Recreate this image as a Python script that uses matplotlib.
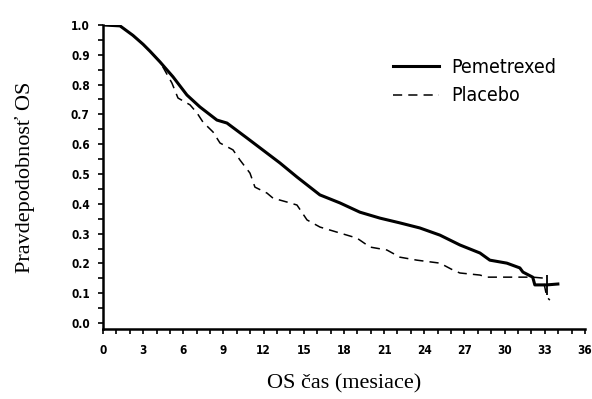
import matplotlib
matplotlib.use("Agg")
import matplotlib.pyplot as plt
from matplotlib import font_manager
from matplotlib.ticker import MultipleLocator, FormatStrFormatter

# Pemetrexed (plna ciara)
pem_t = [0, 1.27, 2.24, 3.0, 3.51, 4.26, 5.23, 6.27, 7.24, 8.51, 9.26, 10.75, 12.25,
         13.22, 14.49, 16.2, 17.7, 19.19, 20.69, 22.18, 23.67, 25.17, 26.66,
         28.16, 28.9, 30.17, 31.14, 31.37, 32.1, 32.26, 33.16, 33.98]
pem_s = [1.0, 0.997, 0.965, 0.935, 0.912, 0.876, 0.826, 0.765, 0.725, 0.681, 0.671,
         0.621, 0.570, 0.537, 0.490, 0.430, 0.403, 0.372, 0.352, 0.336, 0.319, 0.295,
         0.262, 0.235, 0.211, 0.201, 0.185, 0.171, 0.154, 0.128, 0.128, 0.131]

# Placebo (prerusovana ciara)
pla_t = [0, 1.27, 2.24, 3.0, 3.51, 4.26, 5.15, 5.6, 6.5, 7.02, 7.47, 8.22, 8.74,
         9.71, 10.23, 10.98, 11.35, 12.25, 12.7, 13.74, 14.49, 15.24, 16.21, 17.7,
         18.97, 19.94, 21.21, 22.18, 23.45, 25.17, 26.14, 26.66, 28.16, 28.68,
         32.1, 32.86, 33.16, 33.38]
pla_s = [1.0, 0.997, 0.965, 0.935, 0.912, 0.876, 0.805, 0.755, 0.732, 0.705, 0.674,
         0.641, 0.604, 0.581, 0.547, 0.503, 0.456, 0.436, 0.419, 0.406, 0.396, 0.346,
         0.322, 0.302, 0.285, 0.255, 0.245, 0.221, 0.211, 0.201, 0.178, 0.168,
         0.161, 0.154, 0.154, 0.151, 0.087, 0.077]

# cenzurovany bod na konci
cens_t = [33.16]
cens_s = [0.128]

names = {f.name for f in font_manager.fontManager.ttflist}
serif = "Liberation Serif" if "Liberation Serif" in names else "DejaVu Serif"
narrow = {"family": "DejaVu Sans", "stretch": "condensed"}

fig = plt.figure(figsize=(5.92, 3.99), dpi=100)
ax = fig.add_axes([0.174, 0.1754, 0.814, 0.762])

ax.plot(pem_t, pem_s, color="black", lw=2.2, label="Pemetrexed")
ax.plot(pla_t, pla_s, color="black", lw=1.1, dashes=(6, 4), label="Placebo")
ax.plot(cens_t, cens_s, ls="none", marker="|", ms=14, mew=1.3, color="black")

ax.set_xlim(0, 36)
ax.set_ylim(-0.02, 1.0)
for s in ("top", "right"):
    ax.spines[s].set_visible(False)
for s in ("left", "bottom"):
    ax.spines[s].set_linewidth(1.8)

ax.xaxis.set_major_locator(MultipleLocator(3))
ax.xaxis.set_minor_locator(MultipleLocator(1))
ax.yaxis.set_major_locator(MultipleLocator(0.1))
ax.yaxis.set_minor_locator(MultipleLocator(0.05))
ax.yaxis.set_major_formatter(FormatStrFormatter("%.1f"))
ax.tick_params(which="both", direction="out", length=3.5, width=1.2)
ax.tick_params(axis="x", pad=7)
ax.tick_params(axis="y", pad=6)
for lab in ax.get_xticklabels() + ax.get_yticklabels():
    lab.set_fontfamily(narrow["family"])
    lab.set_fontstretch(narrow["stretch"])
    lab.set_fontweight("bold")
    lab.set_fontsize(8.5)

ax.set_ylabel("Pravdepodobnosť OS", family=serif, fontsize=16, labelpad=26)
ax.set_xlabel("OS čas (mesiace)", family=serif, fontsize=16, labelpad=13)

leg = ax.legend(loc="upper left", bbox_to_anchor=(0.565, 0.95), frameon=False,
                handlelength=2.4, handletextpad=0.6, labelspacing=0.5,
                prop={"family": narrow["family"], "stretch": narrow["stretch"],
                      "size": 14})

fig.savefig("out.png", dpi=100)
